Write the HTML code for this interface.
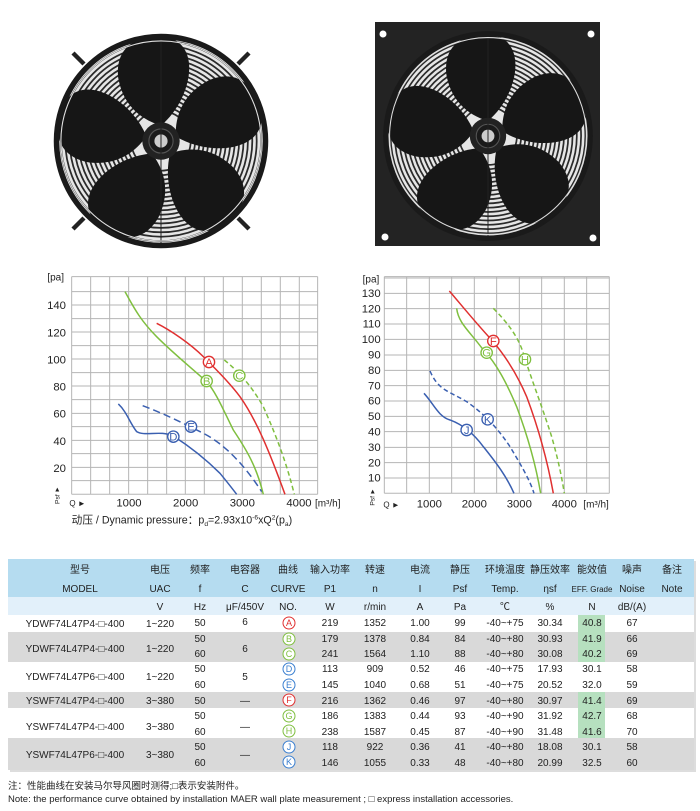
<!DOCTYPE html>
<html><head><meta charset="utf-8"><style>
html,body{margin:0;padding:0;background:#fff;width:700px;height:811px;overflow:hidden}
svg{display:block}
text{font-family:"Liberation Sans","Noto Sans CJK SC",sans-serif;fill:#222}
</style></head><body>
<svg width="700" height="811" viewBox="0 0 700 811" xmlns="http://www.w3.org/2000/svg">
<defs>
<path id="blade" d="M0,-14 C26,-36 36,-80 12,-92 C-16,-99 -42,-90 -39,-58 C-35,-34 -20,-20 0,-14 Z" fill="#161616"/>
<g id="grill">
<circle r="95" fill="#e6e6e6"/>
<g fill="none" stroke="#2a2a2a" stroke-width="1.6">
<circle r="91"/><circle r="87"/><circle r="83"/><circle r="79"/><circle r="75"/><circle r="71"/><circle r="67"/><circle r="63"/><circle r="59"/><circle r="55"/><circle r="51"/><circle r="47"/><circle r="43"/><circle r="39"/><circle r="35"/><circle r="31"/><circle r="27"/>
</g>
<use href="#blade" transform="rotate(0)"/>
<use href="#blade" transform="rotate(72)"/>
<use href="#blade" transform="rotate(144)"/>
<use href="#blade" transform="rotate(216)"/>
<use href="#blade" transform="rotate(288)"/>
<circle r="17" fill="#222"/>
<circle r="11" fill="#1a1a1a" stroke="#555"/>
<circle r="6" fill="#ccc"/>
<line x1="0" y1="-95" x2="0" y2="95" stroke="#222" stroke-width="1.5" opacity="0.6"/>
</g>
</defs>

<!-- left fan -->
<g transform="translate(161,141) scale(1.1)">
<line x1="-80" y1="-80" x2="-70" y2="-70" stroke="#222" stroke-width="4"/>
<line x1="80" y1="-80" x2="70" y2="-70" stroke="#222" stroke-width="4"/>
<line x1="-80" y1="80" x2="-70" y2="70" stroke="#222" stroke-width="4"/>
<line x1="80" y1="80" x2="70" y2="70" stroke="#222" stroke-width="4"/>
<use href="#grill"/>
<circle r="95" fill="none" stroke="#1a1a1a" stroke-width="5"/>
<circle r="91" fill="none" stroke="#e0e0e0" stroke-width="1"/>
</g>

<!-- right fan -->
<rect x="375" y="22" width="225" height="224" fill="#232323"/>
<circle cx="383" cy="34" r="3.5" fill="#fff"/>
<circle cx="591" cy="34" r="3.5" fill="#fff"/>
<circle cx="385" cy="237" r="3.5" fill="#fff"/>
<circle cx="593" cy="238" r="3.5" fill="#fff"/>
<g transform="translate(488,136) scale(1.07)">
<circle r="98" fill="#1a1a1a"/>
<use href="#grill"/>
<circle r="95" fill="none" stroke="#1a1a1a" stroke-width="4"/>
<circle r="92" fill="none" stroke="#ddd" stroke-width="1"/>
</g>

<!-- Chart 1 -->
<g transform="translate(30,260) scale(0.3333)">
<rect x="125" y="50" width="738" height="653" fill="#fff"/>
<g stroke="#b5b5b5" stroke-width="3" fill="none">
<path d="M125,50V703M182,50V703M239,50V703M296,50V703M353,50V703M410,50V703M466,50V703M523,50V703M580,50V703M637,50V703M694,50V703M751,50V703M808,50V703M863,50V703"/>
<path d="M125,703H863M125,662H863M125,622H863M125,581H863M125,541H863M125,500H863M125,460H863M125,419H863M125,378H863M125,338H863M125,297H863M125,257H863M125,216H863M125,176H863M125,135H863M125,95H863M125,50H863"/>
</g>
<g font-size="34" text-anchor="end">
<text x="108" y="147">140</text><text x="108" y="229">120</text><text x="108" y="310">100</text>
<text x="108" y="392">80</text><text x="108" y="473">60</text><text x="108" y="555">40</text><text x="108" y="636">20</text>
</g>
<text x="52" y="62" font-size="30">[pa]</text>
<g font-size="34" text-anchor="middle">
<text x="297" y="740">1000</text><text x="467" y="740">2000</text><text x="637" y="740">3000</text><text x="807" y="740">4000</text>
</g>
<text x="855" y="740" font-size="30">[m³/h]</text>
<text x="118" y="738" font-size="24">Q ►</text>
<text x="72" y="695" font-size="20">▲</text>
<text x="70" y="730" font-size="20" transform="rotate(-90 80 722)">Psf</text>
<text x="125" y="790" font-size="32">动压 / Dynamic pressure：p<tspan font-size="20" dy="8">d</tspan><tspan dy="-8">=2.93x10</tspan><tspan font-size="20" dy="-12">-6</tspan><tspan dy="12">xQ</tspan><tspan font-size="20" dy="-12">2</tspan><tspan dy="12">(p</tspan><tspan font-size="20" dy="8">a</tspan><tspan dy="-8">)</tspan></text>
<g fill="none" stroke-width="4.5">
<path stroke="#e03030" d="M380,190 C420,210 480,250 520,290 C560,330 600,370 630,410 C680,480 720,580 765,703"/>
<path stroke="#7fbf3f" d="M285,95 C310,140 330,180 380,230 C430,280 480,320 530,365 C560,400 580,450 610,510 C650,570 680,620 700,703"/>
<path stroke="#7fbf3f" stroke-dasharray="14 9" d="M583,300 C620,330 660,370 700,440 C740,530 770,610 793,703"/>
<path stroke="#3a5fb0" d="M265,432 C290,455 300,490 320,515 C345,530 390,510 430,528 C480,560 530,600 570,640 C595,670 610,690 620,703"/>
<path stroke="#3a5fb0" stroke-dasharray="22 12" d="M338,437 C400,460 460,490 520,520 C580,550 640,610 695,695"/>
</g>
<g stroke-width="4" fill="#fff" font-size="34" text-anchor="middle">
<circle cx="537" cy="306" r="17" stroke="#e03030"/><text x="537" y="318" style="fill:#e03030">A</text>
<circle cx="530" cy="363" r="17" stroke="#7fbf3f"/><text x="530" y="375" style="fill:#7fbf3f">B</text>
<circle cx="628" cy="347" r="17" stroke="#7fbf3f"/><text x="628" y="359" style="fill:#7fbf3f">C</text>
<circle cx="430" cy="530" r="17" stroke="#3a5fb0"/><text x="430" y="542" style="fill:#3a5fb0">D</text>
<circle cx="483" cy="500" r="17" stroke="#3a5fb0"/><text x="483" y="512" style="fill:#3a5fb0">E</text>
</g>
</g>

<!-- Chart 2 -->
<g transform="translate(350,260) scale(0.3333)">
<g stroke="#b5b5b5" stroke-width="3" fill="none">
<path d="M103,50V700M170,50V700M238,50V700M305,50V700M373,50V700M440,50V700M508,50V700M575,50V700M643,50V700M710,50V700M778,50V700"/>
<path d="M103,700H778M103,654H778M103,608H778M103,562H778M103,515H778M103,469H778M103,423H778M103,377H778M103,331H778M103,285H778M103,238H778M103,192H778M103,146H778M103,100H778M103,54H778M103,50H778"/>
</g>
<g font-size="34" text-anchor="end">
<text x="92" y="111">130</text><text x="92" y="157">120</text><text x="92" y="203">110</text><text x="92" y="249">100</text>
<text x="92" y="296">90</text><text x="92" y="342">80</text><text x="92" y="388">70</text><text x="92" y="434">60</text>
<text x="92" y="480">50</text><text x="92" y="526">40</text><text x="92" y="573">30</text><text x="92" y="619">20</text><text x="92" y="665">10</text>
</g>
<text x="38" y="67" font-size="30">[pa]</text>
<g font-size="34" text-anchor="middle">
<text x="238" y="742">1000</text><text x="373" y="742">2000</text><text x="508" y="742">3000</text><text x="643" y="742">4000</text>
</g>
<text x="700" y="742" font-size="30">[m³/h]</text>
<text x="100" y="742" font-size="24">Q ►</text>
<text x="58" y="700" font-size="20">▲</text>
<text x="56" y="735" font-size="20" transform="rotate(-90 66 727)">Psf</text>
<g fill="none" stroke-width="4.5">
<path stroke="#e03030" d="M298,93 C330,130 370,180 425,240 C460,280 500,340 530,410 C560,490 590,590 610,700"/>
<path stroke="#7fbf3f" d="M320,145 C325,190 360,215 400,270 C440,310 470,370 500,440 C530,520 555,600 572,700"/>
<path stroke="#7fbf3f" stroke-dasharray="14 9" d="M430,145 C470,185 505,230 520,280 C545,360 580,450 605,530 C625,600 635,650 643,700"/>
<path stroke="#3a5fb0" d="M222,400 C250,430 265,470 300,480 C340,495 370,520 400,560 C440,610 470,650 492,700"/>
<path stroke="#3a5fb0" stroke-dasharray="14 9" d="M240,333 C265,390 290,390 350,425 C400,460 440,500 480,560 C510,610 540,660 552,700"/>
</g>
<g stroke-width="4" fill="#fff" font-size="34" text-anchor="middle">
<circle cx="430" cy="243" r="17" stroke="#e03030"/><text x="430" y="255" style="fill:#e03030">F</text>
<circle cx="410" cy="278" r="17" stroke="#7fbf3f"/><text x="410" y="290" style="fill:#7fbf3f">G</text>
<circle cx="525" cy="298" r="17" stroke="#7fbf3f"/><text x="525" y="310" style="fill:#7fbf3f">H</text>
<circle cx="350" cy="510" r="17" stroke="#3a5fb0"/><text x="350" y="522" style="fill:#3a5fb0">J</text>
<circle cx="413" cy="478" r="17" stroke="#3a5fb0"/><text x="413" y="490" style="fill:#3a5fb0">K</text>
</g>
</g>

<!-- Table -->
<rect x="10" y="561" width="686" height="211" fill="#bbb" opacity="0.5"/>
<rect x="8" y="559" width="686" height="38" fill="#b5dcf0"/>
<rect x="8" y="597" width="686" height="18" fill="#e2f0fa"/>
<rect x="8" y="615" width="686" height="17" fill="#fff"/>
<rect x="8" y="632" width="686" height="30" fill="#d9d9d9"/>
<rect x="8" y="662" width="686" height="30" fill="#fff"/>
<rect x="8" y="692" width="686" height="16" fill="#d9d9d9"/>
<rect x="8" y="708" width="686" height="30" fill="#fff"/>
<rect x="8" y="738" width="686" height="32" fill="#d9d9d9"/>
<g fill="#b6e0bf">
<rect x="578" y="615" width="27" height="47"/>
<rect x="578" y="692" width="27" height="46"/>
</g>
<g font-size="10" text-anchor="middle">
<text x="80" y="573">型号</text><text x="160" y="573">电压</text><text x="200" y="573">频率</text><text x="245" y="573">电容器</text><text x="288" y="573">曲线</text><text x="330" y="573">输入功率</text><text x="375" y="573">转速</text><text x="420" y="573">电流</text><text x="460" y="573">静压</text><text x="505" y="573">环境温度</text><text x="550" y="573">静压效率</text><text x="592" y="573">能效值</text><text x="632" y="573">噪声</text><text x="672" y="573">备注</text>
<text x="80" y="592">MODEL</text><text x="160" y="592">UAC</text><text x="200" y="592">f</text><text x="245" y="592">C</text><text x="288" y="592">CURVE</text><text x="330" y="592">P1</text><text x="375" y="592">n</text><text x="420" y="592">I</text><text x="460" y="592">Psf</text><text x="505" y="592">Temp.</text><text x="550" y="592">ηsf</text><text x="592" y="592" font-size="8">EFF. Grade</text><text x="632" y="592">Noise</text><text x="672" y="592">Note</text>
<text x="160" y="610">V</text><text x="200" y="610">Hz</text><text x="245" y="610">μF/450V</text><text x="288" y="610">NO.</text><text x="330" y="610">W</text><text x="375" y="610">r/min</text><text x="420" y="610">A</text><text x="460" y="610">Pa</text><text x="505" y="610">℃</text><text x="550" y="610">%</text><text x="592" y="610">N</text><text x="632" y="610">dB/(A)</text>

<text x="75" y="627">YDWF74L47P4-□-400</text><text x="75" y="652">YDWF74L47P4-□-400</text><text x="75" y="680">YDWF74L47P6-□-400</text><text x="75" y="704">YSWF74L47P4-□-400</text><text x="75" y="730">YSWF74L47P4-□-400</text><text x="75" y="758">YSWF74L47P6-□-400</text>
<text x="160" y="627">1~220</text><text x="160" y="652">1~220</text><text x="160" y="680">1~220</text><text x="160" y="704">3~380</text><text x="160" y="730">3~380</text><text x="160" y="758">3~380</text>
<text x="245" y="625">6</text><text x="245" y="652">6</text><text x="245" y="680">5</text><text x="245" y="704">—</text><text x="245" y="730">—</text><text x="245" y="758">—</text>
</g>
<g font-size="10" text-anchor="middle">
<text x="200" y="626">50</text><text x="330" y="626">219</text><text x="375" y="626">1352</text><text x="420" y="626">1.00</text><text x="460" y="626">99</text><text x="505" y="626">-40~+75</text><text x="550" y="626">30.34</text><text x="592" y="626">40.8</text><text x="632" y="626">67</text>
<text x="200" y="642">50</text><text x="330" y="642">179</text><text x="375" y="642">1378</text><text x="420" y="642">0.84</text><text x="460" y="642">84</text><text x="505" y="642">-40~+80</text><text x="550" y="642">30.93</text><text x="592" y="642">41.9</text><text x="632" y="642">66</text>
<text x="200" y="657">60</text><text x="330" y="657">241</text><text x="375" y="657">1564</text><text x="420" y="657">1.10</text><text x="460" y="657">88</text><text x="505" y="657">-40~+80</text><text x="550" y="657">30.08</text><text x="592" y="657">40.2</text><text x="632" y="657">69</text>
<text x="200" y="672">50</text><text x="330" y="672">113</text><text x="375" y="672">909</text><text x="420" y="672">0.52</text><text x="460" y="672">46</text><text x="505" y="672">-40~+75</text><text x="550" y="672">17.93</text><text x="592" y="672">30.1</text><text x="632" y="672">58</text>
<text x="200" y="688">60</text><text x="330" y="688">145</text><text x="375" y="688">1040</text><text x="420" y="688">0.68</text><text x="460" y="688">51</text><text x="505" y="688">-40~+75</text><text x="550" y="688">20.52</text><text x="592" y="688">32.0</text><text x="632" y="688">59</text>
<text x="200" y="704">50</text><text x="330" y="704">216</text><text x="375" y="704">1362</text><text x="420" y="704">0.46</text><text x="460" y="704">97</text><text x="505" y="704">-40~+80</text><text x="550" y="704">30.97</text><text x="592" y="704">41.4</text><text x="632" y="704">69</text>
<text x="200" y="719">50</text><text x="330" y="719">186</text><text x="375" y="719">1383</text><text x="420" y="719">0.44</text><text x="460" y="719">93</text><text x="505" y="719">-40~+90</text><text x="550" y="719">31.92</text><text x="592" y="719">42.7</text><text x="632" y="719">68</text>
<text x="200" y="735">60</text><text x="330" y="735">238</text><text x="375" y="735">1587</text><text x="420" y="735">0.45</text><text x="460" y="735">87</text><text x="505" y="735">-40~+90</text><text x="550" y="735">31.48</text><text x="592" y="735">41.6</text><text x="632" y="735">70</text>
<text x="200" y="750">50</text><text x="330" y="750">118</text><text x="375" y="750">922</text><text x="420" y="750">0.36</text><text x="460" y="750">41</text><text x="505" y="750">-40~+80</text><text x="550" y="750">18.08</text><text x="592" y="750">30.1</text><text x="632" y="750">58</text>
<text x="200" y="766">60</text><text x="330" y="766">146</text><text x="375" y="766">1055</text><text x="420" y="766">0.33</text><text x="460" y="766">48</text><text x="505" y="766">-40~+80</text><text x="550" y="766">20.99</text><text x="592" y="766">32.5</text><text x="632" y="766">60</text>
</g>
<g fill="#fff" stroke-width="1" font-size="9" text-anchor="middle">
<circle cx="289" cy="623" r="6" stroke="#e03030"/><text x="289" y="626" style="fill:#e03030">A</text>
<circle cx="289" cy="639" r="6" stroke="#7fbf3f"/><text x="289" y="642" style="fill:#7fbf3f">B</text>
<circle cx="289" cy="654" r="6" stroke="#7fbf3f"/><text x="289" y="657" style="fill:#7fbf3f">C</text>
<circle cx="289" cy="669" r="6" stroke="#3a7fd0"/><text x="289" y="672" style="fill:#3a7fd0">D</text>
<circle cx="289" cy="685" r="6" stroke="#3a7fd0"/><text x="289" y="688" style="fill:#3a7fd0">E</text>
<circle cx="289" cy="700" r="6" stroke="#e03030"/><text x="289" y="703" style="fill:#e03030">F</text>
<circle cx="289" cy="716" r="6" stroke="#7fbf3f"/><text x="289" y="719" style="fill:#7fbf3f">G</text>
<circle cx="289" cy="731" r="6" stroke="#7fbf3f"/><text x="289" y="734" style="fill:#7fbf3f">H</text>
<circle cx="289" cy="747" r="6" stroke="#3a7fd0"/><text x="289" y="750" style="fill:#3a7fd0">J</text>
<circle cx="289" cy="762" r="6" stroke="#3a7fd0"/><text x="289" y="765" style="fill:#3a7fd0">K</text>
</g>
<text x="8" y="789" font-size="9.5">注：性能曲线在安装马尔导风圈时测得;□表示安装附件。</text>
<text x="8" y="802" font-size="9.5">Note: the performance curve obtained by installation MAER wall plate measurement ; □ express installation accessories.</text>
</svg>
</body></html>
